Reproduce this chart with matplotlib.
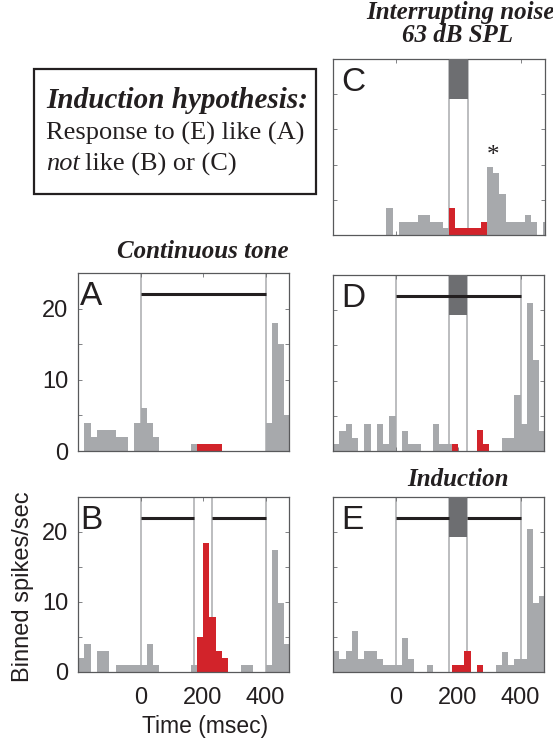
import numpy as np
import matplotlib.pyplot as plt
from matplotlib.patches import Rectangle
from matplotlib.ticker import MultipleLocator

# =========================
# DATA (binned spikes/sec, 20 ms bins)
# =========================

bin_starts = np.arange(-200, 480, 20)     # left edges, panels A B D E
bin_starts_c = np.arange(-210, 480, 20)   # panel C bins sit 10 ms later

a_gray = [0, 4, 2, 3, 3, 3, 2, 2, 0, 4, 6, 4, 2, 0, 0, 0, 0, 0, 1, 0,
          0, 0, 0, 0, 0, 0, 0, 0, 0, 0, 4, 18, 15, 5]
a_red = [0] * 19 + [1, 1, 1, 1] + [0] * 11

b_gray = [2, 4, 0, 3, 3, 0, 1, 1, 1, 1, 1, 4, 1, 0, 0, 0, 0, 0, 1, 0,
          0, 0, 0, 0, 0, 0, 1, 1, 0, 0, 1, 17.5, 9.8, 4]
b_red = [0] * 19 + [5, 18.5, 7.9, 3, 2] + [0] * 10

c_gray = [0, 0, 0, 0, 0, 0, 0, 0, 0, 3.8, 0, 1.9, 1.9, 1.9, 2.85, 2.85, 1.9, 1.9, 0.95, 0,
          0, 0, 0, 0, 0, 9.6, 8.8, 5.8, 1.9, 1.9, 1.9, 2.85, 1.9, 0, 1.9]
c_red = [0] * 19 + [3.8, 0.95, 0.95, 0.95, 0.95, 1.9] + [0] * 10

d_gray = [1.0, 2.9, 3.9, 1.9, 0, 3.9, 0, 3.9, 1.0, 5.0, 0, 2.9, 1.0, 1.0, 0, 0, 3.9, 1.0, 1.0, 0,
          0, 0, 0, 0, 0, 0, 0, 1.9, 1.9, 8.0, 3.9, 21, 12.9, 2.9]
d_red = [0] * 19 + [1.0, 0, 0, 0, 3.0, 1.0] + [0] * 9

e_gray = [3.0, 1.9, 3.0, 5.8, 1.9, 3.0, 3.0, 1.9, 0.95, 0.95, 0.95, 4.9, 1.9, 0, 0, 0.95, 0, 0, 0, 0,
          0, 0, 0, 0, 0, 0, 0.95, 2.9, 0.95, 1.9, 1.9, 20.5, 9.8, 10.8]
e_red = [0] * 19 + [0.95, 0.95, 3.0, 0, 0.95] + [0] * 10

# stimulus timing (ms)
tone_on, tone_off = 0, 400
noise_on, noise_off = 170, 230
tone_level = 22
noise_lo, noise_hi = 19.3, 25

star_x, star_y = 308, 11.2

GRAY = "#a7a9ac"
RED = "#d2232a"
DARK = "#6d6e71"
VLINE = "#a9abae"
INK = "#231f20"
SANS = "Liberation Sans"
SERIF = "Liberation Serif"

W, H = 553, 744
fig = plt.figure(figsize=(W / 100, H / 100), dpi=100)


def px_axes(x0, y0, x1, y1):
    return fig.add_axes([x0 / W, 1 - y1 / H, (x1 - x0) / W, (y1 - y0) / H])


def panel(ax, starts, gray, red, letter, letter_dx, vlines, tones, noise,
          ylab=False, xlab=False):
    ax.bar(starts, gray, width=20, align="edge", color=GRAY, linewidth=0, zorder=2)
    ax.bar(starts, red, width=20, align="edge", color=RED, linewidth=0, zorder=2)
    for v in vlines:
        ax.axvline(v, color=VLINE, lw=1.1, zorder=1)
    if noise:
        ax.bar(noise_on, noise_hi - noise_lo, width=noise_off - noise_on,
               bottom=noise_lo, align="edge", color=DARK, linewidth=0, zorder=3)
    for s, e in tones:
        ax.hlines(tone_level, s, e, color=INK, lw=2.2, zorder=4)

    ax.set_xlim(-200, 475)
    ax.set_ylim(0, 25)
    ax.set_xticks([0, 200, 400])
    ax.yaxis.set_major_locator(MultipleLocator(10))
    ax.yaxis.set_minor_locator(MultipleLocator(5))
    ax.tick_params(which="both", direction="in", length=3, width=0.6,
                   color="#6d6e71", top=True, right=True,
                   labelsize=17, labelcolor=INK)
    ax.tick_params(axis="x", pad=11, labelbottom=xlab)
    ax.tick_params(axis="y", pad=7, labelleft=ylab)
    for lab in ax.get_xticklabels() + ax.get_yticklabels():
        lab.set_family(SANS)
    for sp in ax.spines.values():
        sp.set_color("#58595b")
        sp.set_linewidth(0.9)

    ax.text(letter_dx, 0.955, letter, transform=ax.transAxes, ha="left", va="top",
            fontsize=24, family=SANS, color=INK, zorder=5)


# =========================
# PANELS
# =========================
ax_c = px_axes(333, 59, 545, 235)
panel(ax_c, bin_starts_c, c_gray, c_red, "C", 0.04, [noise_on, noise_off], [], True)
ax_c.text(star_x, star_y, "*", ha="center", va="center", fontsize=18,
          family=SERIF, color=INK)

ax_a = px_axes(78, 273, 289, 451)
panel(ax_a, bin_starts, a_gray, a_red, "A", 0.01, [tone_on, tone_off],
      [(tone_on, tone_off)], False, ylab=True)

ax_d = px_axes(333, 275, 544, 451)
panel(ax_d, bin_starts, d_gray, d_red, "D", 0.04,
      [tone_on, noise_on, noise_off, tone_off], [(tone_on, tone_off)], True)

ax_b = px_axes(78, 497, 289, 672)
panel(ax_b, bin_starts, b_gray, b_red, "B", 0.01,
      [tone_on, noise_on, noise_off, tone_off],
      [(tone_on, noise_on), (noise_off, tone_off)], False, ylab=True, xlab=True)

ax_e = px_axes(333, 497, 544, 672)
panel(ax_e, bin_starts, e_gray, e_red, "E", 0.04,
      [tone_on, noise_on, noise_off, tone_off],
      [(tone_on, noise_on), (noise_off, tone_off)], True, xlab=True)

# =========================
# TEXT
# =========================
def ftext(x, y, s, **kw):
    return fig.text(x / W, 1 - y / H, s, **kw)


title_kw = dict(family=SERIF, weight="bold", style="italic", fontsize=18,
                color=INK, va="center")
ftext(460, 12, "Interrupting noise", ha="center", **title_kw)
ftext(457, 36, "63 dB SPL", ha="center", **title_kw)
ftext(289, 251, "Continuous tone", ha="right", **title_kw)
ftext(458, 480, "Induction", ha="center", **title_kw)

ftext(205, 727, "Time (msec)", ha="center", va="center", fontsize=16.5,
      family=SANS, color=INK)
ftext(23, 587, "Binned spikes/sec", ha="center", va="center", rotation=90,
      fontsize=17, family=SANS, color=INK)

# hypothesis box
fig.patches.append(Rectangle((34 / W, 1 - 194 / H), (316 - 34) / W, (194 - 69) / H,
                             transform=fig.transFigure, fill=False,
                             edgecolor=INK, linewidth=1.6))
ftext(46, 101, "Induction hypothesis:", ha="left", va="center", family=SERIF,
      weight="bold", style="italic", fontsize=21, color=INK)
ftext(46, 133, "Response to (E) like (A)", ha="left", va="center", family=SERIF,
      fontsize=19, color=INK)
t_not = ftext(46, 164, "not", ha="left", va="center", family=SERIF,
              style="italic", fontsize=19, color=INK)
renderer = fig.canvas.get_renderer()
bb = t_not.get_window_extent(renderer)
ftext(bb.x1 + 5, 164, "like (B) or (C)", ha="left", va="center", family=SERIF,
      fontsize=19, color=INK)

fig.savefig("out.png", dpi=100)
